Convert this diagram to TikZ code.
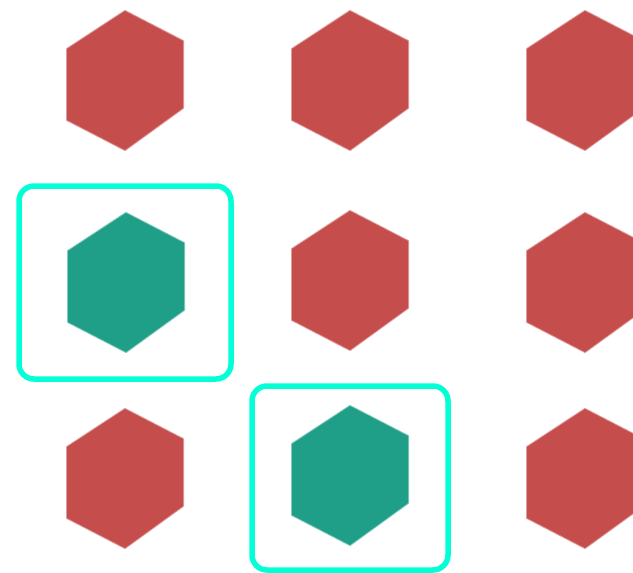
\documentclass[tikz,border=0pt]{standalone}
\definecolor{hexred}{HTML}{C54D4C}
\definecolor{hexgreen}{HTML}{1F9F87}
\definecolor{boxcyan}{HTML}{03FFD6}
\tikzset{
  hexred/.style={fill=hexred, draw=hexred, draw opacity=0.55, line width=2pt, line join=round},
  hexgreen/.style={fill=hexgreen, draw=hexgreen, draw opacity=0.55, line width=2pt, line join=round},
  selbox/.style={draw=boxcyan, line width=5.5pt, rounded corners=15pt}
}
\newcommand{\hexat}[3]{% style, x, y
  \path[#1] (#2,#3) ++(0,-69) -- ++(58,30) -- ++(0,67) -- ++(-58,42) -- ++(-58,-30) -- ++(0,-71) -- cycle;
}
\begin{document}
\begin{tikzpicture}[x=1pt,y=-1pt]
  \useasboundingbox (0,0) rectangle (633,573);
  \fill[white] (0,0) rectangle (633,573);
  % row 1
  \hexat{hexred}{125}{80}
  \hexat{hexred}{350}{80}
  \hexat{hexred}{585}{80}
  % row 2
  \hexat{hexgreen}{126}{282}
  \hexat{hexred}{350}{280}
  \hexat{hexred}{585}{282}
  % row 3
  \hexat{hexred}{125}{478}
  \hexat{hexgreen}{350}{475}
  \hexat{hexred}{585}{478}
  % selection boxes
  \draw[selbox] (19,186) rectangle (231,379);
  \draw[selbox] (252,386) rectangle (448,570);
\end{tikzpicture}
\end{document}
